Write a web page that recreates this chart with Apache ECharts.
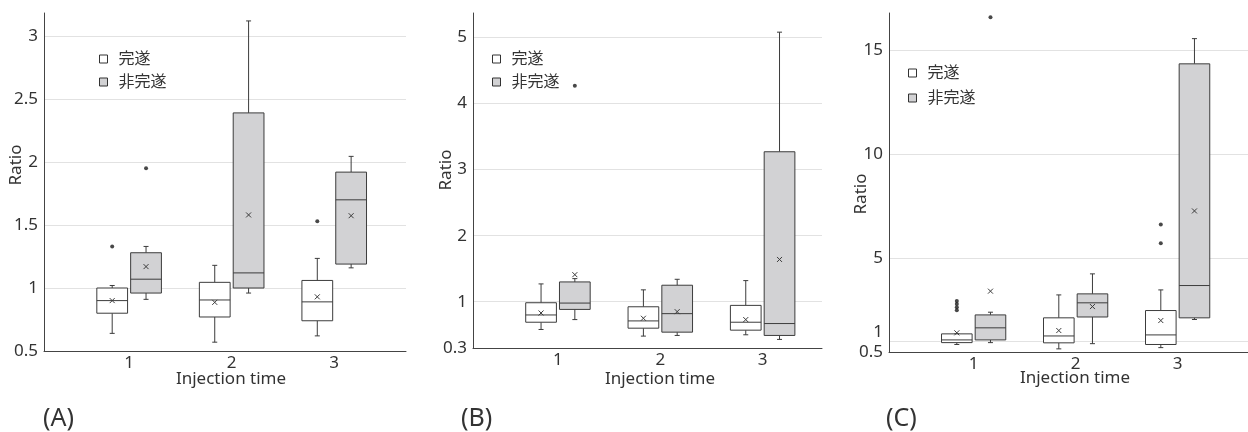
<!DOCTYPE html>
<html>
<head>
<meta charset="utf-8">
<script src="https://cdn.jsdelivr.net/npm/echarts@6/dist/echarts.min.js"></script>
<style>
  html, body { margin: 0; padding: 0; background: #fff; }
  #chart { width: 1248px; height: 432px; }
</style>
</head>
<body>
<div id="chart"></div>
<script>
// injection times on the x axis
const categories = [1, 2, 3]
const seriesNames = ['完遂', '非完遂']

// every box: [min, Q1, median, Q3, max, mean], one per injection time
const boxA_done = [[0.64, 0.80, 0.90, 1.00, 1.02, 0.90], [0.57, 0.77, 0.905, 1.045, 1.18, 0.886], [0.62, 0.74, 0.89, 1.06, 1.235, 0.93]]
const boxA_not = [[0.91, 0.96, 1.07, 1.28, 1.33, 1.17], [0.96, 1.00, 1.12, 2.39, 3.12, 1.58], [1.16, 1.19, 1.70, 1.92, 2.045, 1.574]]
const outA_done = [[1, 1.33], [3, 1.53]]
const outA_not = [[1, 1.95]]

const boxB_done = [[0.58, 0.69, 0.80, 0.985, 1.27, 0.83], [0.48, 0.60, 0.71, 0.924, 1.18, 0.75], [0.50, 0.57, 0.69, 0.945, 1.32, 0.73]]
const boxB_not = [[0.73, 0.884, 0.98, 1.30, 1.35, 1.41], [0.49, 0.54, 0.82, 1.25, 1.34, 0.85], [0.43, 0.49, 0.67, 3.27, 5.08, 1.64]]
const outB_done = []
const outB_not = [[1, 4.27]]

const boxC_done = [[0.86, 0.95, 1.08, 1.37, 1.37, 1.42], [0.65, 0.94, 1.27, 2.14, 3.24, 1.53], [0.71, 0.86, 1.32, 2.49, 3.48, 2.01]]
const boxC_not = [[0.95, 1.08, 1.66, 2.28, 2.41, 3.42], [0.90, 2.18, 2.86, 3.29, 4.25, 2.68], [2.06, 2.14, 3.69, 14.33, 15.54, 7.27]]
const outC_done = [[1, 2.95], [1, 2.8], [1, 2.65], [1, 2.5], [3, 6.62], [3, 5.72]]
const outC_not = [[1, 16.57]]

// y tick labels per panel
const ticksA = [0.5, 1, 1.5, 2, 2.5, 3]
const ticksB = [0.3, 1, 2, 3, 4, 5]
const ticksC = [0.5, 1, 5, 10, 15]

const FONT = "'Noto Sans', 'Noto Sans CJK JP', sans-serif"
const OFFSET = 0.165
const BOX_W = 0.3
const fills = { '完遂': '#ffffff', '非完遂': '#d2d2d4' }
const STROKE = '#3c3c3c'

function renderBox(params, api) {
  const x = api.value(0)
  const lo = api.coord([x, api.value(1)])
  const q1 = api.coord([x, api.value(2)])
  const med = api.coord([x, api.value(3)])
  const q3 = api.coord([x, api.value(4)])
  const hi = api.coord([x, api.value(5)])
  const mean = api.coord([x, api.value(6)])
  const half = api.size([BOX_W, 0])[0] / 2
  const cx = lo[0]
  const line = (x1, y1, x2, y2) => ({
    type: 'line', shape: { x1, y1, x2, y2 },
    style: { stroke: STROKE, lineWidth: 1 }
  })
  return {
    type: 'group',
    children: [
      line(cx, hi[1], cx, q3[1]),
      line(cx, q1[1], cx, lo[1]),
      line(cx - 2.5, hi[1], cx + 2.5, hi[1]),
      line(cx - 2.5, lo[1], cx + 2.5, lo[1]),
      {
        type: 'rect',
        shape: { x: cx - half, y: q3[1], width: half * 2, height: q1[1] - q3[1] },
        style: { fill: fills[params.seriesName], stroke: STROKE, lineWidth: 1 }
      },
      line(cx - half, med[1], cx + half, med[1]),
      line(mean[0] - 2.5, mean[1] - 2.5, mean[0] + 2.5, mean[1] + 2.5),
      line(mean[0] - 2.5, mean[1] + 2.5, mean[0] + 2.5, mean[1] - 2.5)
    ]
  }
}

function boxSeries(name, boxes, offset, idx) {
  return {
    name, type: 'custom', xAxisIndex: idx, yAxisIndex: idx,
    itemStyle: { color: fills[name] },
    renderItem: renderBox,
    encode: { x: 0, y: [1, 2, 3, 4, 5, 6] },
    data: boxes.map((b, i) => [categories[i] + offset].concat(b)),
    z: 2
  }
}

function outlierSeries(name, pts, offset, idx) {
  return {
    name, type: 'scatter', xAxisIndex: idx, yAxisIndex: idx,
    symbolSize: 4, itemStyle: { color: '#1a1a1a' },
    data: pts.map(p => [p[0] + offset, p[1]]),
    z: 3
  }
}

const grids = [
  { left: 44, top: 13, width: 362, height: 338 },
  { left: 473, top: 13, width: 349, height: 335 },
  { left: 889, top: 13, width: 359, height: 339 }
]
const xRanges = [[0.17, 3.7], [0.17, 3.58], [0.17, 3.69]]
const yRanges = [[0.5, 3.183], [0.3, 5.37], [0.5, 16.77]]
const yTicks = [ticksA, ticksB, ticksC]

const xAxes = grids.map((g, i) => ({
  type: 'value', gridIndex: i, min: xRanges[i][0], max: xRanges[i][1],
  axisLine: { lineStyle: { color: '#444', width: 1 } },
  axisTick: { show: false },
  splitLine: { show: false },
  axisLabel: { customValues: categories, color: '#333', fontSize: 17, fontFamily: FONT, margin: 4 }
}))

const yAxes = grids.map((g, i) => ({
  type: 'value', gridIndex: i, min: yRanges[i][0], max: yRanges[i][1],
  axisLine: { show: true, lineStyle: { color: '#444', width: 1 } },
  axisTick: { show: false, customValues: yTicks[i] },
  splitLine: { show: true, lineStyle: { color: '#e2e2e2', width: 1 } },
  axisLabel: {
    customValues: yTicks[i], color: '#333', fontSize: 17, fontFamily: FONT, margin: 6,
    formatter: v => (i === 2 && v === 1) ? '{up|1}' : String(v),
    rich: { up: { fontSize: 17, fontFamily: FONT, color: '#333', padding: [0, 0, 18, 0] } }
  }
}))

const legendPos = [[99, 50, 5], [492, 50, 5], [908, 64, 7]]
const legends = legendPos.map(p => ({
  orient: 'vertical', left: p[0], top: p[1], itemGap: p[2], padding: 0,
  itemWidth: 8, itemHeight: 8, icon: 'rect',
  textStyle: { fontSize: 16, fontFamily: FONT, color: '#333', lineHeight: 18, padding: [0, 0, 0, 6] },
  data: seriesNames.map(n => ({ name: n, itemStyle: { color: fills[n], borderColor: '#333', borderWidth: 1 } }))
}))

const series = [
  boxSeries('完遂', boxA_done, -OFFSET, 0), boxSeries('非完遂', boxA_not, OFFSET, 0),
  outlierSeries('完遂', outA_done, -OFFSET, 0), outlierSeries('非完遂', outA_not, OFFSET, 0),
  boxSeries('完遂', boxB_done, -OFFSET, 1), boxSeries('非完遂', boxB_not, OFFSET, 1),
  outlierSeries('完遂', outB_done, -OFFSET, 1), outlierSeries('非完遂', outB_not, OFFSET, 1),
  boxSeries('完遂', boxC_done, -OFFSET, 2), boxSeries('非完遂', boxC_not, OFFSET, 2),
  outlierSeries('完遂', outC_done, -OFFSET, 2), outlierSeries('非完遂', outC_not, OFFSET, 2)
]

const txt = (text, x, y, size, extra, align) => Object.assign({
  type: 'text', x, y,
  style: { text, fontSize: size, fontFamily: FONT, fill: '#333', align: align || 'center', verticalAlign: 'middle' }
}, extra || {})

const graphics = [
  txt('Ratio', 16, 165, 17, { rotation: Math.PI / 2 }),
  txt('Ratio', 446, 170, 17, { rotation: Math.PI / 2 }),
  txt('Ratio', 861, 194, 17, { rotation: Math.PI / 2 }),
  txt('Injection time', 231, 379, 17),
  txt('Injection time', 660, 379, 17),
  txt('Injection time', 1075, 378, 17),
  txt('(A)', 43, 419, 25, null, 'left'),
  txt('(B)', 461, 419, 25, null, 'left'),
  txt('(C)', 886, 419, 25, null, 'left')
]

const myChart = echarts.init(document.getElementById('chart'), null, { renderer: 'canvas' })
myChart.setOption({
  animation: false,
  backgroundColor: '#fff',
  grid: grids,
  xAxis: xAxes,
  yAxis: yAxes,
  legend: legends,
  graphic: graphics,
  series
})
</script>
</body>
</html>
